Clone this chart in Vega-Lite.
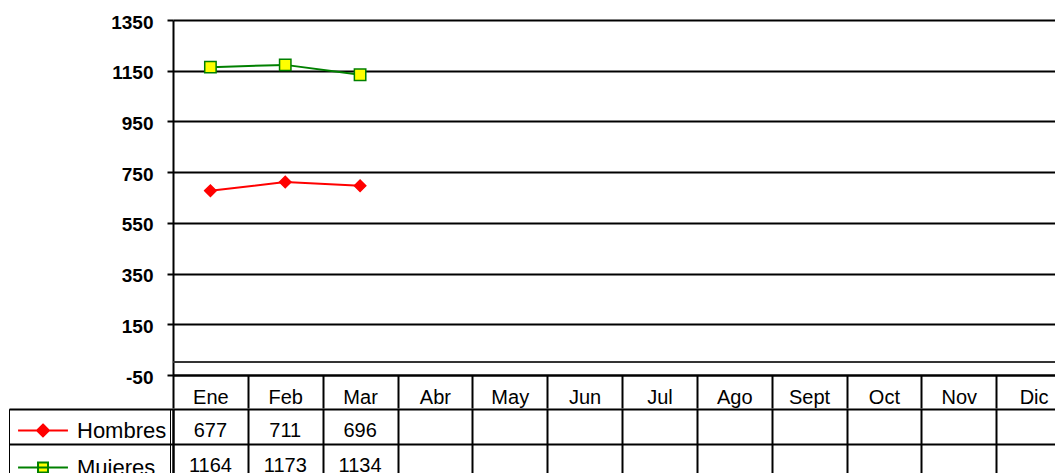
{
  "$schema": "https://vega.github.io/schema/vega-lite/v6.json",
  "padding": {"left": 8, "top": 13, "right": 0, "bottom": 0},
  "background": "white",
  "config": {"view": {"stroke": null}, "font": "Liberation Sans"},
  "datasets": {
    "values": [
      {"month": "Ene", "series": "Hombres", "value": 677},
      {"month": "Feb", "series": "Hombres", "value": 711},
      {"month": "Mar", "series": "Hombres", "value": 696},
      {"month": "Ene", "series": "Mujeres", "value": 1164},
      {"month": "Feb", "series": "Mujeres", "value": 1173},
      {"month": "Mar", "series": "Mujeres", "value": 1134}
    ]
  },
  "spacing": -2,
  "resolve": {
    "scale": {"color": "independent", "shape": "independent", "fill": "independent", "stroke": "independent"},
    "legend": {"color": "independent", "shape": "independent", "fill": "independent", "stroke": "independent"}
  },
  "vconcat": [
    {
      "width": 898,
      "height": 355,
      "data": {"name": "values"},
      "layer": [
        {
          "mark": {"type": "rule", "color": "#333333", "strokeWidth": 1.5},
          "encoding": {"y": {"datum": 0, "type": "quantitative"}}
        },
        {
          "mark": {"type": "line", "strokeWidth": 2},
          "encoding": {
            "x": {
              "field": "month", "type": "nominal", "sort": null,
              "scale": {"domain": ["Ene","Feb","Mar","Abr","May","Jun","Jul","Ago","Sept","Oct","Nov","Dic"], "paddingInner": 0, "paddingOuter": 0},
              "axis": {"title": null, "orient": "bottom", "domain": true, "domainColor": "black", "domainWidth": 2, "ticks": true, "tickBand": "extent", "tickSize": 33, "tickColor": "black", "tickWidth": 2, "labelPadding": -21, "labelFontSize": 20, "labelColor": "black", "labelFont": "Liberation Sans", "labelAngle": 0, "grid": false}
            },
            "y": {
              "field": "value", "type": "quantitative",
              "scale": {"domain": [-50, 1350], "nice": false, "zero": false},
              "axis": {"title": null, "values": [-50,150,350,550,750,950,1150,1350], "labelExpr": "datum.value + ''", "grid": true, "gridColor": "black", "gridWidth": 2, "domain": true, "domainColor": "black", "domainWidth": 2, "tickSize": 6, "tickColor": "black", "tickWidth": 2, "labelFontSize": 19, "labelFontWeight": "bold", "labelColor": "black", "labelFont": "Liberation Sans", "labelPadding": 14, "labelOffset": 2}
            },
            "color": {"field": "series", "type": "nominal", "scale": {"domain": ["Hombres","Mujeres"], "range": ["#ff0000","#008000"]}, "legend": null}
          }
        },
        {
          "mark": {"type": "point", "opacity": 1, "strokeWidth": 1.5, "size": 130},
          "encoding": {
            "x": {"field": "month", "type": "nominal", "sort": null},
            "y": {"field": "value", "type": "quantitative"},
            "shape": {"field": "series", "type": "nominal", "scale": {"domain": ["Hombres","Mujeres"], "range": ["diamond","square"]}, "legend": null},
            "fill": {"field": "series", "type": "nominal", "scale": {"domain": ["Hombres","Mujeres"], "range": ["#ff0000","#ffff00"]}, "legend": null},
            "stroke": {"field": "series", "type": "nominal", "scale": {"domain": ["Hombres","Mujeres"], "range": ["#ff0000","#008000"]}, "legend": null}
          }
        }
      ]
    },
    {
      "width": 898,
      "height": 70,
      "data": {"name": "values"},
      "encoding": {
        "x": {
          "field": "month", "type": "nominal", "sort": null,
          "scale": {"domain": ["Ene","Feb","Mar","Abr","May","Jun","Jul","Ago","Sept","Oct","Nov","Dic"], "paddingInner": 0, "paddingOuter": 0},
          "axis": {"title": null, "orient": "top", "labels": false, "ticks": false, "domain": false, "grid": true, "gridColor": "black", "gridWidth": 2, "tickBand": "extent"}
        },
        "y": {
          "field": "series", "type": "nominal",
          "scale": {"domain": ["Hombres","Mujeres"], "paddingInner": 0, "paddingOuter": 0},
          "axis": {"title": null, "labels": false, "domain": true, "domainColor": "black", "domainWidth": 2, "ticks": true, "tickSize": 164, "tickColor": "black", "tickWidth": 2, "tickBand": "extent", "grid": true, "gridColor": "black", "gridWidth": 2}
        }
      },
      "layer": [
        {
          "mark": {"type": "text", "fontSize": 20, "font": "Liberation Sans", "color": "black", "dy": 4},
          "encoding": {"text": {"field": "value", "type": "quantitative", "format": "d"}}
        },
        {
          "mark": {"type": "point", "opacity": 0},
          "encoding": {
            "shape": {
              "field": "series", "type": "nominal",
              "scale": {"domain": ["Hombres","Mujeres"], "range": ["M-0.71,0L2.14,0M0.714,-0.34L1.054,0L0.714,0.34L0.374,0Z", "M-0.71,0L2.14,0M0.43,-0.29L1.0,-0.29L1.0,0.29L0.43,0.29Z"]},
              "legend": {"orient": "none", "legendX": -164, "legendY": 0, "title": null, "padding": 3, "symbolSize": 1225, "symbolStrokeWidth": 2, "symbolOpacity": 1, "labelFontSize": 22, "labelFont": "Liberation Sans", "labelColor": "black", "labelOffset": 28, "rowPadding": 7, "strokeColor": "black"}
            },
            "fill": {"field": "series", "type": "nominal", "scale": {"domain": ["Hombres","Mujeres"], "range": ["#ff0000","#ffff00"]}},
            "stroke": {"field": "series", "type": "nominal", "scale": {"domain": ["Hombres","Mujeres"], "range": ["#ff0000","#008000"]}}
          }
        }
      ]
    }
  ]
}
